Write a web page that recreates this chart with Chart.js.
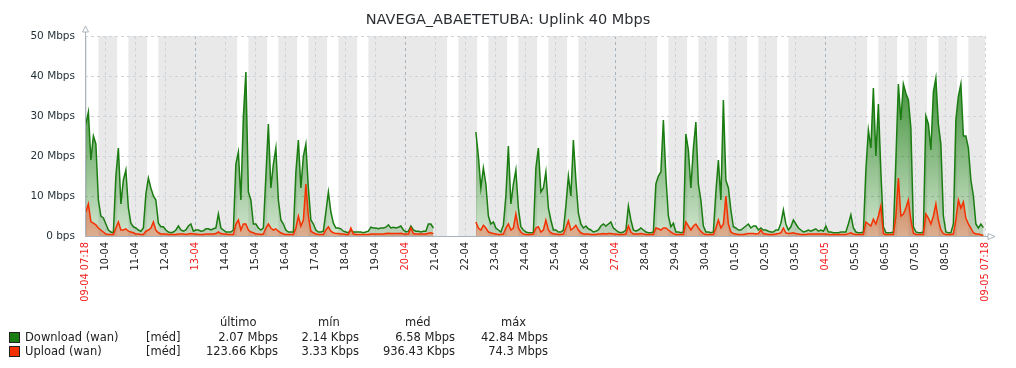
<!DOCTYPE html>
<html>
<head>
<meta charset="utf-8">
<script src="https://cdn.jsdelivr.net/npm/chart.js@4.4.1/dist/chart.umd.min.js"></script>
<style>
  body { margin: 0; background: #fff; font-family: 'DejaVu Sans', sans-serif; color: #1f2c33; }
  #wrap { position: relative; width: 1016px; height: 368px; overflow: hidden; }
  #title { position: absolute; left: 0; top: 11px; width: 1016px; text-align: center; font-size: 14.5px; line-height: 17px; color: #2b2f33; }
  .lg { position: absolute; font-size: 11.5px; line-height: 14px; white-space: nowrap; color: #222; }
  .sq { position: absolute; width: 9px; height: 9px; border: 1px solid #222; }
</style>
</head>
<body>
<div id="wrap">
  <canvas id="graph" width="1016" height="368"></canvas>
  <div id="title">NAVEGA_ABAETETUBA: Uplink 40 Mbps</div>
  <div id="legend"></div>
</div>
<script>
// periodo do grafico (30 dias)
const HOUR = 3600e3;
const rangeStart = Date.UTC(2025, 3, 9, 7, 18);   // 09-04 07:18
const rangeEnd = Date.UTC(2025, 4, 9, 7, 18);     // 09-05 07:18
const firstSample = Date.UTC(2025, 3, 9, 8, 0);   // primeira amostra
const sampleStepHours = 2;

// Download (wan), Mbps, uma linha por dia (00h..22h de 2 em 2 horas)
const downloadMbps = [
  28, 31, 19, 25, 23, 9, 5, 4.5,                       // 09-04 (08h..)
  3, 1.5, 1, 0.8, 15, 22, 8, 14, 16.5, 7, 3.2, 2.3,    // 10-04
  2, 1.5, 1.2, 2, 10.5, 14.5, 12, 10, 9, 3.2, 2.3, 2.3,// 11-04
  1.5, 1, 0.8, 1, 1.5, 2.5, 1.5, 1.2, 1.5, 2.5, 3, 1.2,// 12-04
  1.5, 1.5, 1.2, 1.3, 1.8, 1.8, 1.5, 1.8, 2, 5.5, 2, 1.5, // 13-04
  1, 1, 1, 1.5, 18, 21, 9, 30, 41, 11, 9, 3,           // 14-04
  3, 2, 1.5, 2, 15, 28, 12, 18, 22, 9, 4, 3,           // 15-04
  1.5, 1, 1, 1, 16, 24, 12, 20, 23, 12, 4, 3,          // 16-04
  1.5, 1, 1, 1.2, 6, 11, 6, 3.2, 2, 2, 1.8, 1.2,       // 17-04
  1, 0.8, 1.5, 1, 1, 1, 1, 0.8, 1, 1.2, 2.2, 2,        // 18-04
  2, 1.8, 2, 2, 2.2, 2.8, 2, 2.2, 2, 2.2, 2.5, 1.5,    // 19-04
  1, 1.2, 2.5, 1.5, 1.2, 1.2, 1, 1.2, 1.2, 3, 3, 2,    // 20-04
  null, null, null, null, null, null, null, null, null, null, null, null, // 21-04 sem dados
  null, null, null, null, 26, 20, 12, 17, 13, 5, 3, 3.5, // 22-04
  2, 1.5, 1, 2.7, 10, 22.5, 8, 13, 16.5, 7, 2.3, 1.5,  // 23-04
  1, 0.8, 0.8, 0.9, 17, 22, 11, 12, 16, 7, 4, 1.5,     // 24-04
  1.5, 1, 1, 1.5, 7.5, 15, 10, 24, 14, 5.7, 3, 2,      // 25-04
  2.5, 1.8, 1.5, 1, 1.2, 1.5, 2.5, 3, 2.5, 3, 3.5, 2,  // 26-04
  1.5, 1, 0.8, 1, 1.5, 7.5, 4, 1.5, 1.2, 1.5, 2, 1.5,  // 27-04
  1, 0.8, 0.8, 1, 13, 15, 16, 29, 15, 5, 2.3, 3.2,     // 28-04
  1, 1, 0.8, 1, 25.5, 21.5, 12, 22, 28.5, 13, 9, 2.5,  // 29-04
  1, 1, 0.8, 1, 11, 19, 9, 34, 14, 12, 6.5, 2.3,       // 30-04
  2, 1.5, 1.5, 2, 2.5, 3, 2, 2.5, 2.5, 1.5, 2, 1.5,    // 01-05
  1.5, 1.2, 1, 1, 1.5, 1.5, 3.2, 6.5, 3, 1.5, 2.3, 4,  // 02-05
  3, 2, 1.5, 1, 1.2, 1.5, 1.2, 1.5, 1.8, 1.2, 1.5, 1.2,// 03-05
  2.5, 1, 1, 0.8, 0.8, 0.8, 1, 1, 1, 3, 5.3, 2,        // 04-05
  1, 0.8, 0.8, 1, 16.5, 26.5, 22, 37, 20, 33, 16, 2.3, // 05-05
  0.8, 0.8, 0.8, 1, 19, 38, 29, 38, 35.7, 34, 27, 2.3, // 06-05
  1, 0.8, 0.8, 1, 30, 28, 21.5, 36, 39.5, 28, 23, 5,   // 07-05
  1, 0.8, 0.8, 3, 29, 35, 38, 25, 25, 22, 14, 10,      // 08-05
  3, 2, 3, 2.1                                         // 09-05 (..06h)
];

// Upload (wan), Mbps
const uploadMbps = [
  6, 8, 3.6, 3.2, 2.8, 2, 1.5, 1,
  0.5, 0.4, 0.4, 0.4, 2, 3.5, 1.5, 1.5, 1.8, 1.2, 1, 0.8,
  0.5, 0.5, 0.4, 0.4, 1.2, 1.5, 2, 3.5, 1.5, 0.8, 0.5, 0.5,
  0.5, 0.4, 0.4, 0.4, 0.4, 0.5, 0.5, 0.5, 0.4, 0.5, 0.6, 0.5,
  0.5, 0.4, 0.4, 0.4, 0.5, 0.5, 0.5, 0.5, 0.6, 1, 0.6, 0.5,
  0.5, 0.4, 0.4, 0.4, 3, 4, 1.5, 3, 3, 1.5, 1, 0.8,
  0.5, 0.5, 0.4, 0.5, 2, 3, 2, 1.5, 1.8, 1.2, 0.8, 0.5,
  0.4, 0.4, 0.4, 0.4, 2, 5, 2.5, 4, 13, 5, 1.2, 0.8,
  0.5, 0.4, 0.4, 0.4, 1.5, 2.3, 1.2, 0.8, 0.6, 0.6, 0.5, 0.5,
  0.4, 0.4, 2, 0.5, 0.4, 0.4, 0.4, 0.4, 0.4, 0.4, 0.5, 0.5,
  0.5, 0.5, 0.5, 0.5, 0.6, 0.7, 0.6, 0.6, 0.6, 0.6, 0.7, 0.5,
  0.5, 0.5, 2, 0.6, 0.5, 0.5, 0.5, 0.5, 0.5, 0.7, 0.8, 0.6,
  null, null, null, null, null, null, null, null, null, null, null, null,
  null, null, null, null, 3.5, 2, 1.5, 2.7, 2, 1, 0.8, 0.6,
  0.5, 0.4, 0.4, 0.5, 2, 3, 1.5, 2, 5.5, 2, 1, 0.5,
  0.4, 0.4, 0.4, 0.5, 2, 2.3, 1, 1.5, 4, 1.5, 0.8, 0.5,
  0.5, 0.4, 0.4, 0.5, 2, 3.8, 1.5, 2, 2.7, 1.5, 0.8, 0.5,
  0.5, 0.5, 0.4, 0.4, 0.4, 0.5, 0.5, 0.6, 0.5, 0.6, 0.6, 0.5,
  0.5, 0.4, 0.4, 0.4, 0.5, 2.5, 1, 0.5, 0.5, 0.5, 0.6, 0.5,
  0.4, 0.4, 0.4, 0.4, 2, 1.8, 1.5, 2, 2, 1.5, 1, 0.6,
  0.4, 0.4, 0.4, 0.4, 3.5, 2.5, 1.5, 2.5, 3, 2, 1.2, 0.6,
  0.4, 0.4, 0.4, 0.4, 2, 4, 2, 3, 10, 3, 1, 0.6,
  0.5, 0.4, 0.4, 0.4, 0.5, 0.6, 0.6, 0.6, 0.5, 0.6, 1.5, 0.6,
  0.5, 0.4, 0.4, 0.4, 0.5, 0.6, 0.8, 2, 0.8, 0.6, 0.7, 0.8,
  0.6, 0.5, 0.4, 0.4, 0.4, 0.5, 0.5, 0.5, 0.5, 0.5, 0.5, 0.5,
  0.5, 0.4, 0.4, 0.4, 0.4, 0.4, 0.4, 0.4, 0.4, 0.6, 0.8, 0.5,
  0.4, 0.4, 0.4, 0.4, 3.5, 3, 2.5, 4.2, 3, 5, 7.5, 0.6,
  0.4, 0.4, 0.4, 0.4, 5, 14.5, 5, 5.5, 7, 9, 4, 0.7,
  0.4, 0.4, 0.4, 0.4, 5.5, 4.5, 3, 5, 8, 4, 1.5, 0.6,
  0.4, 0.4, 0.4, 0.5, 4, 9, 7, 8.5, 4.5, 3, 2, 0.8,
  0.5, 0.5, 0.3, 0.12
];

// eixo Y
const yTicksMbps = [0, 10, 20, 30, 40, 50];

// legenda
const seriesNames = ['Download (wan)', 'Upload (wan)'];
const seriesColors = ['#1A7C11', '#F63100'];
const legendFunc = ['[méd]', '[méd]'];
const statHeaders = ['último', 'mín', 'méd', 'máx'];
const statLast = ['2.07 Mbps', '123.66 Kbps'];
const statMin = ['2.14 Kbps', '3.33 Kbps'];
const statAvg = ['6.58 Mbps', '936.43 Kbps'];
const statMax = ['42.84 Mbps', '74.3 Mbps'];

// horario de trabalho 1-5, 09:00-18:00
const workHours = [9, 18];

// ---------------------------------------------------------------

const hoursOf = (ms) => (ms - rangeStart) / HOUR;
const pad = (n) => String(n).padStart(2, '0');
const totalHours = hoursOf(rangeEnd);

function dateLabel(h, withTime) {
  const d = new Date(rangeStart + h * HOUR);
  let s = pad(d.getUTCDate()) + '-' + pad(d.getUTCMonth() + 1);
  if (withTime) s += ' ' + pad(d.getUTCHours()) + ':' + pad(d.getUTCMinutes());
  return s;
}
function isSunday(h) {
  return new Date(rangeStart + h * HOUR).getUTCDay() === 0;
}

const sampleX = downloadMbps.map((_, i) => hoursOf(firstSample) + i * sampleStepHours);
const toPoints = (arr) => arr.map((v, i) => ({ x: sampleX[i], y: v }));

// marcas do eixo X: inicio, meia-noite de cada dia, fim
const tickHours = [0];
for (let t = Date.UTC(2025, 3, 10); t <= Date.UTC(2025, 4, 8); t += 24 * HOUR) tickHours.push(hoursOf(t));
tickHours.push(totalHours);

const isEdge = (v) => v === 0 || v === totalHours;
const isRedTick = (v) => isEdge(v) || isSunday(v);

function gradientFill(rgb, topA, botA) {
  return (c) => {
    const a = c.chart.chartArea;
    if (!a) return null;
    const g = c.chart.ctx.createLinearGradient(0, a.top, 0, a.bottom);
    g.addColorStop(0, 'rgba(' + rgb + ',' + topA + ')');
    g.addColorStop(1, 'rgba(' + rgb + ',' + botA + ')');
    return g;
  };
}

// fundo: cinza fora do horario de trabalho
const workBands = {
  id: 'workBands',
  beforeDraw(chart) {
    const { ctx, chartArea: a, scales: { x } } = chart;
    ctx.save();
    ctx.fillStyle = '#e9e9e9';
    ctx.fillRect(a.left, a.top, a.width, a.height);
    ctx.fillStyle = '#ffffff';
    for (let t = Date.UTC(2025, 3, 9); t < rangeEnd; t += 24 * HOUR) {
      const wd = new Date(t).getUTCDay();
      if (wd === 0 || wd === 6) continue;
      const x0 = Math.max(x.getPixelForValue(hoursOf(t + workHours[0] * HOUR)), a.left);
      const x1 = Math.min(x.getPixelForValue(hoursOf(t + workHours[1] * HOUR)), a.right);
      if (x1 > x0) ctx.fillRect(x0, a.top, x1 - x0, a.height);
    }
    ctx.restore();
  }
};

// eixos com setas
const axisArrows = {
  id: 'axisArrows',
  afterDraw(chart) {
    const { ctx, chartArea: a } = chart;
    const lx = Math.round(a.left) + 0.5, by = Math.round(a.bottom) + 0.5;
    ctx.save();
    ctx.strokeStyle = '#aab4bc';
    ctx.lineWidth = 1;
    ctx.beginPath();
    ctx.moveTo(lx, a.top - 4);
    ctx.lineTo(lx, by);
    ctx.lineTo(a.right + 3, by);
    ctx.stroke();
    ctx.fillStyle = '#fff';
    ctx.beginPath();
    ctx.moveTo(lx, a.top - 10);
    ctx.lineTo(lx - 3, a.top - 4);
    ctx.lineTo(lx + 3, a.top - 4);
    ctx.closePath();
    ctx.fill(); ctx.stroke();
    ctx.beginPath();
    ctx.moveTo(a.right + 10, by);
    ctx.lineTo(a.right + 3, by - 3);
    ctx.lineTo(a.right + 3, by + 3);
    ctx.closePath();
    ctx.fill(); ctx.stroke();
    ctx.restore();
  }
};

new Chart(document.getElementById('graph'), {
  type: 'line',
  data: {
    datasets: [
      {
        label: seriesNames[0],
        data: toPoints(downloadMbps),
        borderColor: seriesColors[0],
        borderWidth: 1.5,
        backgroundColor: gradientFill('26,124,17', 1, 0.2),
        fill: 'origin',
        pointRadius: 0,
        tension: 0,
        order: 2
      },
      {
        label: seriesNames[1],
        data: toPoints(uploadMbps),
        borderColor: seriesColors[1],
        borderWidth: 1.5,
        backgroundColor: gradientFill('246,49,0', 1, 0.3),
        fill: 'origin',
        pointRadius: 0,
        tension: 0,
        order: 1
      }
    ]
  },
  options: {
    responsive: false,
    animation: false,
    layout: { padding: { top: 36, right: 31, left: 0, bottom: 0 } },
    plugins: { legend: { display: false }, tooltip: { enabled: false } },
    scales: {
      x: {
        type: 'linear',
        min: 0,
        max: totalHours,
        afterBuildTicks: (scale) => { scale.ticks = tickHours.map((v) => ({ value: v })); },
        afterFit: (scale) => { scale.height = 132; },
        grid: {
          drawTicks: false,
          color: (c) => (c.tick && isSunday(c.tick.value) && !isEdge(c.tick.value)) ? '#a7b3bd' : '#cdd5db'
        },
        border: { display: false, dash: [3, 3] },
        ticks: {
          autoSkip: false,
          maxRotation: 90,
          minRotation: 90,
          padding: 6,
          font: { family: 'DejaVu Sans', size: 9.8 },
          color: (c) => isRedTick(c.tick.value) ? '#f02020' : '#222',
          callback: (v) => dateLabel(v, isEdge(v))
        }
      },
      y: {
        min: 0,
        max: 50,
        afterBuildTicks: (scale) => { scale.ticks = yTicksMbps.map((v) => ({ value: v })); },
        afterFit: (scale) => { scale.width = 85; },
        grid: { drawTicks: false, color: '#cdd5db' },
        border: { display: false, dash: [3, 3] },
        ticks: {
          padding: 10,
          font: { family: 'DejaVu Sans', size: 10.5 },
          color: '#1f2c33',
          callback: (v) => v === 0 ? '0 bps' : v + ' Mbps'
        }
      }
    }
  },
  plugins: [workBands, axisArrows]
});

// legenda em texto
const legend = document.getElementById('legend');
function addText(txt, left, top, right) {
  const el = document.createElement('div');
  el.className = 'lg';
  el.textContent = txt;
  el.style.top = top + 'px';
  if (right !== undefined) { el.style.right = (1016 - right) + 'px'; el.style.textAlign = 'right'; }
  else el.style.left = left + 'px';
  legend.appendChild(el);
}
const headerLefts = [220, 318, 405, 501];
const colRights = [278, 359, 455, 548];
statHeaders.forEach((h, i) => addText(h, headerLefts[i], 315));
seriesNames.forEach((name, i) => {
  const top = 330 + i * 14;
  const sq = document.createElement('div');
  sq.className = 'sq';
  sq.style.left = '9px';
  sq.style.top = (top + 2) + 'px';
  sq.style.background = seriesColors[i];
  legend.appendChild(sq);
  addText(name, 25, top);
  addText(legendFunc[i], 146, top);
  [statLast, statMin, statAvg, statMax].forEach((col, j) => addText(col[i], 0, top, colRights[j]));
});
</script>
</body>
</html>
